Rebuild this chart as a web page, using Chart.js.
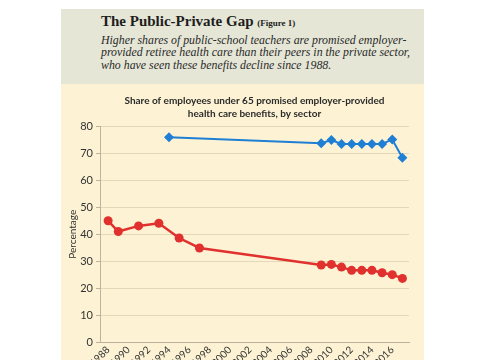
<!DOCTYPE html>
<html>
<head>
<meta charset="utf-8">
<script src="https://cdn.jsdelivr.net/npm/chart.js@4.4.1/dist/chart.umd.min.js"></script>
<style>
  html, body { margin: 0; padding: 0; background: #ffffff; width: 485px; height: 360px; overflow: hidden; }
  #header { position: absolute; left: 61px; top: 9px; width: 363px; height: 75px; background: #e5e6d6; }
  #panel { position: absolute; left: 61px; top: 84px; width: 363px; height: 300px; background: #fdf3d4; }
  #title { position: absolute; left: 101px; top: 13.7px; font-family: "Liberation Serif", serif; font-weight: bold; font-size: 15px; line-height: 15px; color: #1e1e1e; white-space: nowrap; }
  #title small { font-size: 9px; }
  #sub { position: absolute; left: 101px; top: 33.7px; width: 320px; font-family: "Liberation Serif", serif; font-style: italic; font-size: 11.85px; line-height: 12.5px; color: #2a2a2a; white-space: nowrap; }
  #chart { position: absolute; left: 61px; top: 84px; }
</style>
</head>
<body>
<div id="header"></div>
<div id="panel"></div>
<div id="title">The Public-Private Gap <small>(Figure 1)</small></div>
<div id="sub">Higher shares of public-school teachers are promised employer-<br>provided retiree health care than their peers in the private sector,<br>who have seen these benefits decline since 1988.</div>
<canvas id="chart" width="363" height="300"></canvas>
<script>
const chartTitle = ["Share of employees under 65 promised employer-provided", "health care benefits, by sector"];
const yAxisTitle = "Percentage";
const xTickYears = [1988, 1990, 1992, 1994, 1996, 1998, 2000, 2002, 2004, 2006, 2008, 2010, 2012, 2014, 2016];
const yTickValues = [0, 10, 20, 30, 40, 50, 60, 70, 80];

const privateYears = [1988, 1989, 1991, 1993, 1995, 1997, 2009, 2010, 2011, 2012, 2013, 2014, 2015, 2016, 2017];
const privateValues = [45.0, 41.0, 43.1, 44.1, 38.6, 34.9, 28.6, 28.8, 27.8, 26.6, 26.6, 26.6, 25.7, 25.0, 23.6];

const publicYears = [1994, 2009, 2010, 2011, 2012, 2013, 2014, 2015, 2016, 2017];
const publicValues = [76.0, 73.8, 75.0, 73.5, 73.5, 73.5, 73.5, 73.5, 75.2, 68.4];

const toPoints = (xs, ys) => xs.map((x, i) => ({ x: x, y: ys[i] }));

new Chart(document.getElementById('chart'), {
  type: 'line',
  data: {
    datasets: [
      {
        label: 'Public-school teachers',
        data: toPoints(publicYears, publicValues),
        borderColor: '#1f7fd4',
        backgroundColor: '#1f7fd4',
        borderWidth: 2,
        pointStyle: 'rectRot',
        pointRadius: 5,
        pointBorderWidth: 0,
        tension: 0
      },
      {
        label: 'Private sector',
        data: toPoints(privateYears, privateValues),
        borderColor: '#e0312e',
        backgroundColor: '#e0312e',
        borderWidth: 2.5,
        pointStyle: 'circle',
        pointRadius: 4.5,
        pointBorderWidth: 0,
        tension: 0
      }
    ]
  },
  options: {
    responsive: false,
    devicePixelRatio: 1,
    animation: false,
    layout: { padding: { left: 0, right: 15, top: 0, bottom: 0 } },
    plugins: {
      legend: { display: false },
      tooltip: { enabled: false },
      title: {
        display: true,
        fullSize: false,
        text: chartTitle,
        color: '#2b2b2b',
        font: { family: 'Lato', weight: 'bold', size: 10, lineHeight: 1.3 },
        padding: { top: 10, bottom: 6.5 }
      }
    },
    scales: {
      x: {
        type: 'linear',
        min: 1987.2,
        max: 2017.65,
        afterBuildTicks: (s) => { s.ticks = xTickYears.map(v => ({ value: v })); },
        afterFit: (s) => { s.height = 42; },
        ticks: {
          callback: (v) => String(v),
          minRotation: 45,
          maxRotation: 45,
          autoSkip: false,
          padding: 2,
          color: '#333333',
          font: { family: 'Lato', size: 10 }
        },
        grid: { color: 'rgba(0,0,0,0)', drawTicks: false },
        border: { display: true, color: '#bdb39c', width: 1 }
      },
      y: {
        min: 0,
        max: 80,
        afterBuildTicks: (s) => { s.ticks = yTickValues.map(v => ({ value: v })); },
        afterFit: (s) => { s.width = 39; },
        ticks: {
          padding: 3,
          color: '#333333',
          font: { family: 'Lato', size: 11 }
        },
        grid: { color: '#e2d9b8', lineWidth: 1, tickLength: 4, tickColor: '#bdb39c' },
        border: { display: true, color: '#bdb39c', width: 1 },
        title: {
          display: true,
          text: yAxisTitle,
          color: '#333333',
          font: { family: 'Lato', size: 10 },
          padding: { top: 6, bottom: 0 }
        }
      }
    }
  }
});
</script>
</body>
</html>
